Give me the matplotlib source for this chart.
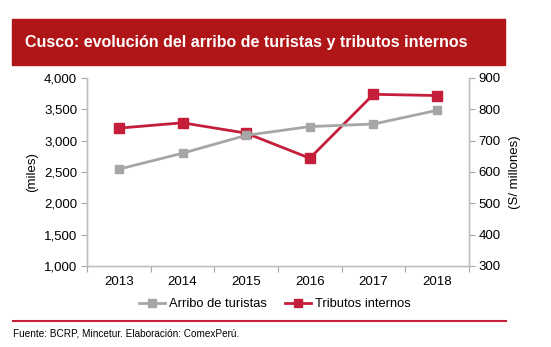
import matplotlib.pyplot as plt
from matplotlib.patches import Rectangle
from matplotlib.lines import Line2D

plt.rcParams['font.family'] = ['Liberation Sans', 'DejaVu Sans']

years = ['2013', '2014', '2015', '2016', '2017', '2018']
arribo = [2545, 2800, 3085, 3225, 3265, 3485]      # miles
tributos = [740, 757, 724, 644, 848, 844]          # S/ millones

gris = '#A6A6A6'
rojo = '#C41E3A'
rojo_titulo = '#B01518'

fig = plt.figure(figsize=(5.51, 3.47), dpi=100)
W, H = 551, 347

# barra del titulo
fig.patches.append(Rectangle((12 / W, 1 - 65 / H), 493 / W, 46 / H,
                             transform=fig.transFigure, color=rojo_titulo, zorder=0))
fig.text(25 / W, 1 - 43 / H, 'Cusco: evolución del arribo de turistas y tributos internos',
         color='white', fontsize=11.5, fontweight='bold', va='center', ha='left')

ax = fig.add_axes([87 / W, 1 - 266 / H, 382 / W, 188 / H])
x = list(range(len(years)))
ax.plot(x, arribo, color=gris, lw=2, marker='s', ms=6, zorder=2)
ax.set_ylim(1000, 4000)
ax.set_yticks(range(1000, 4001, 500))
ax.set_yticklabels([f'{v:,}' for v in range(1000, 4001, 500)])
ax.set_xlim(-0.5, 5.5)
ax.set_xticks([i + 0.5 for i in range(-1, 6)], minor=False)
ax.set_xticklabels([])
ax.set_xticks(x, minor=True)
ax.set_xticklabels(years, minor=True)
ax.tick_params(axis='x', which='minor', length=0, pad=7, labelsize=9.5)
ax.tick_params(axis='x', which='major', length=4, color=gris)
ax.tick_params(axis='y', length=4, color=gris, labelsize=9.5, pad=3)
ax.set_ylabel('(miles)', fontsize=9.5, labelpad=4)

ax2 = ax.twinx()
ax2.plot(x, tributos, color=rojo, lw=2, marker='s', ms=7, zorder=3)
ax2.set_ylim(300, 900)
ax2.set_yticks(range(300, 901, 100))
ax2.tick_params(axis='y', length=4, color=gris, labelsize=9.5, pad=3)
ax2.set_ylabel('(S/ millones)', fontsize=9.5, labelpad=6)

for a in (ax, ax2):
    a.spines['top'].set_visible(False)
    for s in ('left', 'right', 'bottom'):
        a.spines[s].set_color('#BFBFBF')
        a.spines[s].set_linewidth(1)
ax.set_zorder(ax2.get_zorder() + 1)
ax.patch.set_visible(False)

handles = [Line2D([], [], color=gris, lw=2, marker='s', ms=6),
           Line2D([], [], color=rojo, lw=2, marker='s', ms=6)]
fig.legend(handles, ['Arribo de turistas', 'Tributos internos'], loc='center',
           bbox_to_anchor=(275 / W, 1 - 304 / H), ncol=2, frameon=False,
           fontsize=9.3, handlelength=2.0, columnspacing=1.4, handletextpad=0.3)

fig.add_artist(Line2D([13 / W, 506 / W], [1 - 321 / H] * 2, color=rojo, lw=1.5))
fig.text(13 / W, 1 - 334 / H, 'Fuente: BCRP, Mincetur. Elaboración: ComexPerú.',
         fontsize=7.2, va='center', ha='left')

fig.savefig('out.png', dpi=100)
